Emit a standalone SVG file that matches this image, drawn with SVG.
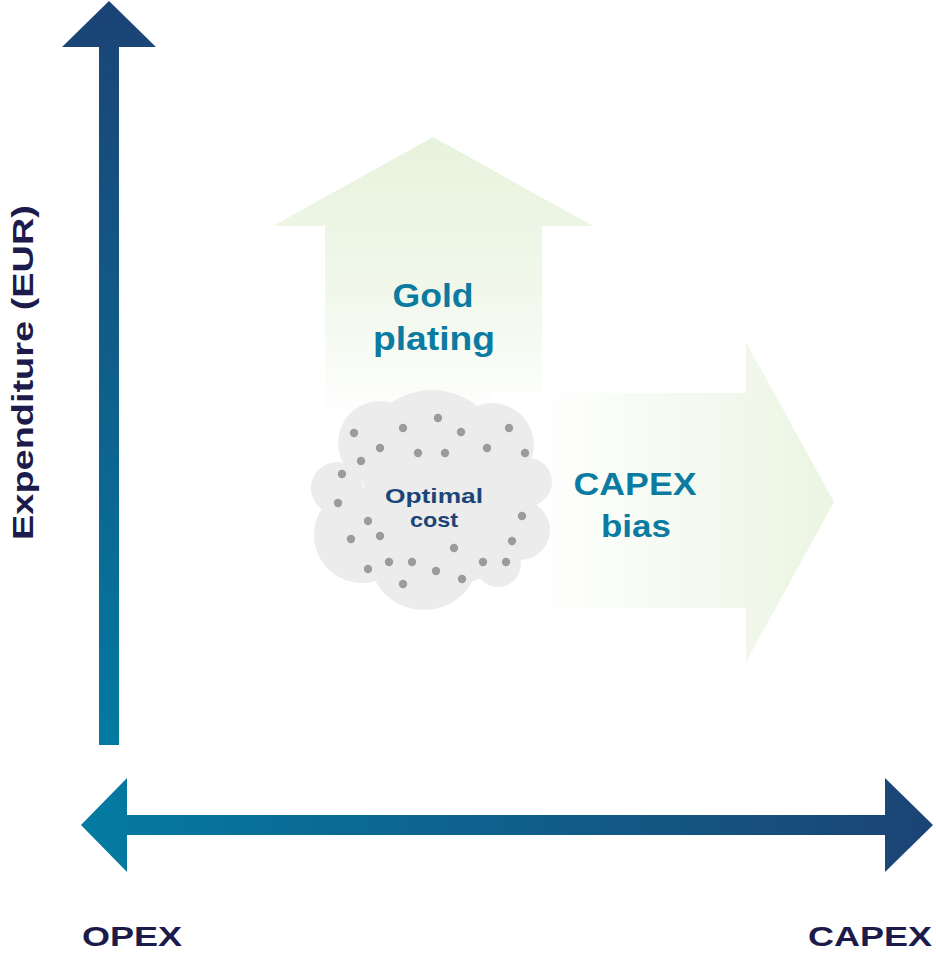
<svg xmlns="http://www.w3.org/2000/svg" width="936" height="958" viewBox="0 0 936 958">
<defs>
<style>
.lbl{font-family:"Liberation Sans",Arial,sans-serif;font-weight:bold;}
.axis-lbl{fill:#1c1b4b;font-size:27px;}
.teal{fill:#0b7ba2;}
.navy{fill:#1b4577;}
.dot{fill:#9b9b9b;}
.cloud{fill:#ececec;}
</style>
<linearGradient id="gV" gradientUnits="userSpaceOnUse" x1="0" y1="0" x2="0" y2="745">
<stop offset="0" stop-color="#1b4375"/><stop offset="1" stop-color="#037aa1"/>
</linearGradient>
<linearGradient id="gH" gradientUnits="userSpaceOnUse" x1="81" y1="0" x2="933" y2="0">
<stop offset="0" stop-color="#047ba2"/><stop offset="1" stop-color="#1b4475"/>
</linearGradient>
<linearGradient id="gGold" gradientUnits="userSpaceOnUse" x1="0" y1="137" x2="0" y2="420">
<stop offset="0" stop-color="#e7f3dd"/><stop offset="0.55" stop-color="#f1f8eb"/><stop offset="1" stop-color="#ffffff"/>
</linearGradient>
<linearGradient id="gCapex" gradientUnits="userSpaceOnUse" x1="535" y1="0" x2="834" y2="0">
<stop offset="0" stop-color="#ffffff"/><stop offset="1" stop-color="#ebf5e2"/>
</linearGradient>
</defs>

<g id="gold-plating">
<polygon points="433,137 593,226 542,226 542,430 325,430 325,226 273,226" fill="url(#gGold)"/>
<text class="lbl teal" x="433" y="307" font-size="33" text-anchor="middle" textLength="81" lengthAdjust="spacingAndGlyphs">Gold</text>
<text class="lbl teal" x="434" y="350" font-size="33" text-anchor="middle" textLength="122" lengthAdjust="spacingAndGlyphs">plating</text>
</g>

<g id="capex-bias">
<polygon points="490,393 746,393 746,342 834,502 746,662 746,608 490,608" fill="url(#gCapex)"/>
<text class="lbl teal" x="635" y="495" font-size="32" text-anchor="middle" textLength="123" lengthAdjust="spacingAndGlyphs">CAPEX</text>
<text class="lbl teal" x="636" y="537" font-size="32" text-anchor="middle" textLength="70" lengthAdjust="spacingAndGlyphs">bias</text>
</g>

<g id="optimal-cost">
<g class="cloud">
<circle cx="432" cy="462" r="72"/>
<circle cx="380" cy="443" r="42"/>
<circle cx="492" cy="445" r="42"/>
<circle cx="337" cy="488" r="26"/>
<circle cx="528" cy="482" r="24"/>
<circle cx="362" cy="535" r="48"/>
<circle cx="424" cy="555" r="55"/>
<circle cx="520" cy="530" r="30"/>
<circle cx="498" cy="564" r="23"/>
<circle cx="450" cy="510" r="75"/>
</g>
<g class="dot">
<circle cx="354" cy="433" r="4.2"/><circle cx="403" cy="428" r="4.2"/><circle cx="438" cy="418" r="4.2"/>
<circle cx="461" cy="432" r="4.2"/><circle cx="509" cy="428" r="4.2"/><circle cx="380" cy="448" r="4.2"/>
<circle cx="418" cy="453" r="4.2"/><circle cx="445" cy="453" r="4.2"/><circle cx="487" cy="448" r="4.2"/>
<circle cx="525" cy="453" r="4.2"/><circle cx="361" cy="461" r="4.2"/><circle cx="342" cy="474" r="4.2"/>
<circle cx="338" cy="503" r="4.2"/><circle cx="368" cy="521" r="4.2"/><circle cx="522" cy="516" r="4.2"/>
<circle cx="351" cy="539" r="4.2"/><circle cx="380" cy="536" r="4.2"/><circle cx="512" cy="541" r="4.2"/>
<circle cx="454" cy="548" r="4.2"/><circle cx="389" cy="562" r="4.2"/><circle cx="412" cy="562" r="4.2"/>
<circle cx="483" cy="562" r="4.2"/><circle cx="506" cy="562" r="4.2"/><circle cx="368" cy="569" r="4.2"/>
<circle cx="436" cy="571" r="4.2"/><circle cx="462" cy="579" r="4.2"/><circle cx="403" cy="584" r="4.2"/>
</g>
<text class="lbl navy" x="434" y="503" font-size="21" text-anchor="middle" textLength="98" lengthAdjust="spacingAndGlyphs">Optimal</text>
<text class="lbl navy" x="434" y="527" font-size="21" text-anchor="middle" textLength="48" lengthAdjust="spacingAndGlyphs">cost</text>
</g>

<g id="connectors">
<polygon id="y-axis" points="109,1 156,47 119,47 119,745 99,745 99,47 62,47" fill="url(#gV)"/>
<polygon id="x-axis" points="81,825 127,778 127,815 885,815 885,778 933,825 885,872 885,835 127,835 127,872" fill="url(#gH)"/>
</g>

<g id="axis-labels">
<text id="opex" class="lbl axis-lbl" x="82" y="946" textLength="100" lengthAdjust="spacingAndGlyphs">OPEX</text>
<text id="capex" class="lbl axis-lbl" x="932" y="946" text-anchor="end" textLength="124" lengthAdjust="spacingAndGlyphs">CAPEX</text>
<text id="expenditure" class="lbl" fill="#1c1b4b" font-size="30" transform="translate(33,540) rotate(-90)" x="0" y="0" textLength="335" lengthAdjust="spacingAndGlyphs">Expenditure (EUR)</text>
</g>
</svg>
